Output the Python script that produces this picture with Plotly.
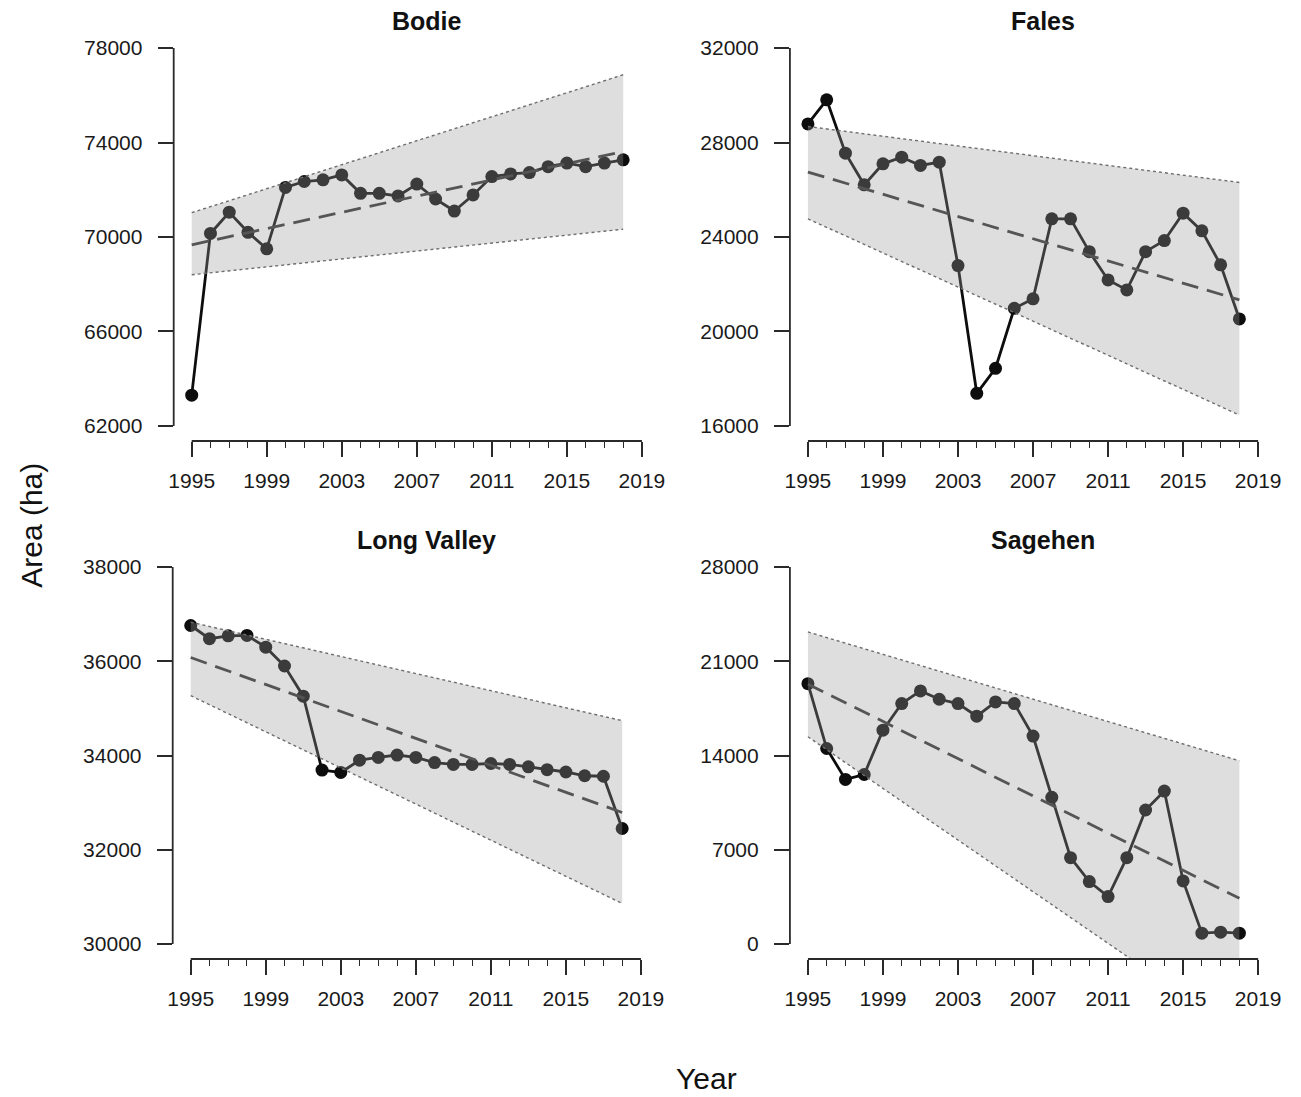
import plotly.graph_objects as go

# ---------------- data ----------------
years = list(range(1995, 2019))
band_years = [1995, 2018]

sites = ["Bodie", "Fales", "Long Valley", "Sagehen"]

bodie = [63300, 70150, 71050, 70200, 69500, 72100, 72350, 72420, 72630, 71850,
         71850, 71740, 72240, 71610, 71100, 71780, 72560, 72670, 72730, 72980,
         73130, 72980, 73130, 73270]
fales = [28790, 29810, 27550, 26210, 27100, 27380, 27030, 27170, 22790, 17380,
         18440, 20980, 21380, 24770, 24770, 23380, 22180, 21760, 23380, 23850,
         25010, 24260, 22820, 20530]
long_valley = [36760, 36480, 36540, 36550, 36300, 35900, 35260, 33690, 33640, 33900,
               33960, 34010, 33960, 33850, 33810, 33810, 33830, 33810, 33760, 33700,
               33650, 33570, 33560, 32450]
sagehen = [19340, 14520, 12220, 12590, 15880, 17860, 18800, 18180, 17860, 16920,
           17980, 17860, 15440, 10890, 6410, 4630, 3520, 6410, 9950, 11360,
           4680, 800, 870, 800]

bodie_trend = [69670, 73620]
bodie_upper = [71030, 76870]
bodie_lower = [68400, 70330]
fales_trend = [26750, 21340]
fales_upper = [28680, 26310]
fales_lower = [24770, 16460]
lv_trend = [36080, 32790]
lv_upper = [36830, 34740]
lv_lower = [35270, 30860]
sag_trend = [19300, 3390]
sag_upper = [23180, 13610]
sag_lower = [15390, -6670]

x_ticks = [1995, 1999, 2003, 2007, 2011, 2015, 2019]
bodie_yticks = [62000, 66000, 70000, 74000, 78000]
fales_yticks = [16000, 20000, 24000, 28000, 32000]
lv_yticks = [30000, 32000, 34000, 36000, 38000]
sag_yticks = [0, 7000, 14000, 21000, 28000]

series = [bodie, fales, long_valley, sagehen]
trends = [bodie_trend, fales_trend, lv_trend, sag_trend]
uppers = [bodie_upper, fales_upper, lv_upper, sag_upper]
lowers = [bodie_lower, fales_lower, lv_lower, sag_lower]
yticks = [bodie_yticks, fales_yticks, lv_yticks, sag_yticks]

# ---------------- layout geometry (pixels) ----------------
W, H = 1301, 1097
xdoms_px = [(170, 660), (791, 1281), (169, 659), (791, 1281)]
ydoms_px = [(33, 441), (33, 441), (552, 959), (552, 959)]
title_pos = [(425, 21), (1046, 21), (425, 540), (1046, 540)]

FONT = "Liberation Sans, Arial, sans-serif"
AXC = "#2a2a2a"

fig = go.Figure()
shapes = []
annotations = []

for i in range(4):
    ax = "" if i == 0 else str(i + 1)
    xref = "x" + ax
    yref = "y" + ax
    y = series[i]
    # data line + points (drawn first, band overlays translucently)
    fig.add_trace(go.Scatter(
        x=years, y=y, mode="lines+markers", xaxis=xref, yaxis=yref,
        line=dict(color="#0d0d0d", width=2.8),
        marker=dict(color="#0d0d0d", size=13, line=dict(width=0)),
        showlegend=False, hoverinfo="skip"))
    # confidence band
    bx = band_years + band_years[::-1]
    by = lowers[i] + uppers[i][::-1]
    fig.add_trace(go.Scatter(
        x=bx, y=by, mode="lines", fill="toself", xaxis=xref, yaxis=yref,
        fillcolor="rgba(154,154,154,0.33)", line=dict(width=0),
        showlegend=False, hoverinfo="skip"))
    for b in (uppers[i], lowers[i]):
        fig.add_trace(go.Scatter(
            x=band_years, y=b, mode="lines", xaxis=xref, yaxis=yref,
            line=dict(color="#6e6e6e", width=1.4, dash="dot"),
            showlegend=False, hoverinfo="skip"))
    # trend line
    fig.add_trace(go.Scatter(
        x=band_years, y=trends[i], mode="lines", xaxis=xref, yaxis=yref,
        line=dict(color="#555555", width=2.8, dash="17px,9px"),
        showlegend=False, hoverinfo="skip"))

    yt = yticks[i]
    yspan = yt[-1] - yt[0]
    xspan = x_ticks[-1] - x_ticks[0]
    x0, x1 = xdoms_px[i]
    y0, y1 = ydoms_px[i]
    fig.layout["xaxis" + ax] = dict(
        domain=[x0 / W, x1 / W],
        range=[x_ticks[0] - 0.04 * xspan, x_ticks[-1] + 0.04 * xspan],
        anchor=yref, showgrid=False, zeroline=False, showline=False,
        tickmode="array", tickvals=x_ticks, ticktext=[str(v) for v in x_ticks],
        ticks="outside", ticklen=15, tickwidth=1.7, tickcolor=AXC,
        ticklabelstandoff=6,
        minor=dict(tickmode="array", tickvals=years + [2019], ticks="outside",
                   ticklen=6, tickwidth=1.3, tickcolor=AXC, showgrid=False),
        tickfont=dict(family=FONT, size=21, color="#1a1a1a"))
    fig.layout["yaxis" + ax] = dict(
        domain=[1 - y1 / H, 1 - y0 / H],
        range=[yt[0] - 0.04 * yspan, yt[-1] + 0.04 * yspan],
        anchor=xref, showgrid=False, zeroline=False, showline=False,
        tickmode="array", tickvals=yt, ticktext=[str(v) for v in yt],
        ticks="outside", ticklen=15, tickwidth=1.7, tickcolor=AXC,
        ticklabelstandoff=11,
        tickfont=dict(family=FONT, size=21, color="#1a1a1a"))
    # R-style axis lines spanning only the tick range
    shapes.append(dict(type="line", xref=xref, yref=yref + " domain",
                       x0=x_ticks[0], x1=x_ticks[-1], y0=0, y1=0,
                       line=dict(color=AXC, width=1.8)))
    shapes.append(dict(type="line", xref=xref + " domain", yref=yref,
                       x0=0, x1=0, y0=yt[0], y1=yt[-1],
                       line=dict(color=AXC, width=1.8)))
    tx, ty = title_pos[i]
    annotations.append(dict(text="<b>" + sites[i] + "</b>", x=tx / W, y=1 - ty / H,
                            xref="paper", yref="paper", showarrow=False,
                            xanchor="center", yanchor="middle",
                            font=dict(family=FONT, size=25, color="#111111")))

annotations.append(dict(text="Area (ha)", x=26 / W, y=1 - 525 / H, xref="paper",
                        yref="paper", showarrow=False, textangle=-90,
                        xanchor="center", yanchor="middle",
                        font=dict(family=FONT, size=30, color="#111111")))
annotations.append(dict(text="Year", x=707 / W, y=1 - 1078 / H, xref="paper",
                        yref="paper", showarrow=False,
                        xanchor="center", yanchor="middle",
                        font=dict(family=FONT, size=30, color="#111111")))

fig.update_layout(width=W, height=H, margin=dict(l=0, r=0, t=0, b=0),
                  plot_bgcolor="white", paper_bgcolor="white",
                  shapes=shapes, annotations=annotations, showlegend=False)

fig.write_html("out.html")
